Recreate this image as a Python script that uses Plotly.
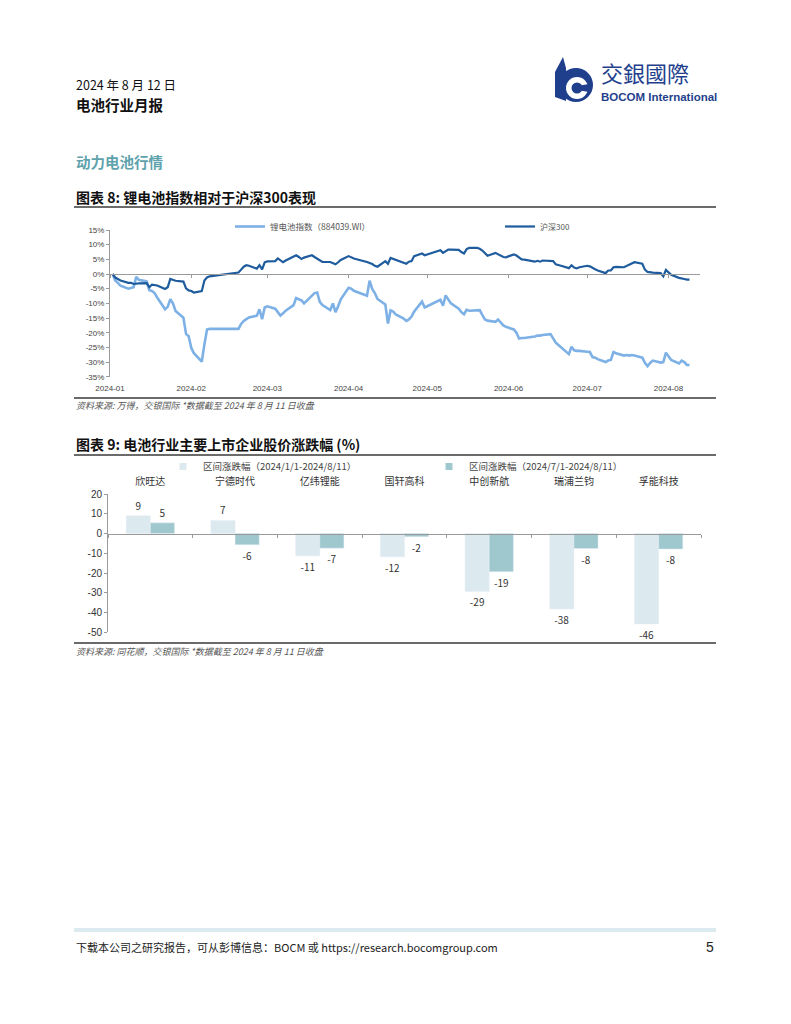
import plotly.graph_objects as go

W, H = 791, 1024
def px(x): return x / W
def py(y): return 1 - y / H

# ---------------- Chart 1 data (relative performance, %) ----------------
li_dates = ["2024-01-02","2024-01-03","2024-01-04","2024-01-05","2024-01-08","2024-01-09","2024-01-10","2024-01-11","2024-01-12",
            "2024-01-15","2024-01-16","2024-01-17","2024-01-18","2024-01-19","2024-01-22","2024-01-23","2024-01-24","2024-01-25","2024-01-26",
            "2024-01-29","2024-01-30","2024-01-31","2024-02-01","2024-02-02","2024-02-05","2024-02-06","2024-02-07","2024-02-08",
            "2024-02-19","2024-02-20","2024-02-21","2024-02-22","2024-02-23","2024-02-26","2024-02-27","2024-02-28","2024-02-29",
            "2024-03-01","2024-03-04","2024-03-05","2024-03-06","2024-03-07","2024-03-08","2024-03-11","2024-03-12","2024-03-13","2024-03-14","2024-03-15",
            "2024-03-18","2024-03-19","2024-03-20","2024-03-21","2024-03-22","2024-03-25","2024-03-26","2024-03-27","2024-03-28","2024-03-29",
            "2024-04-01","2024-04-02","2024-04-03","2024-04-08","2024-04-09","2024-04-10","2024-04-11","2024-04-12",
            "2024-04-15","2024-04-16","2024-04-17","2024-04-18","2024-04-19","2024-04-22","2024-04-23","2024-04-24","2024-04-25","2024-04-26",
            "2024-04-29","2024-04-30","2024-05-06","2024-05-07","2024-05-08","2024-05-09","2024-05-10",
            "2024-05-13","2024-05-14","2024-05-15","2024-05-16","2024-05-17","2024-05-20","2024-05-21","2024-05-22","2024-05-23","2024-05-24",
            "2024-05-27","2024-05-28","2024-05-29","2024-05-30","2024-05-31","2024-06-03","2024-06-04","2024-06-05","2024-06-06","2024-06-07",
            "2024-06-11","2024-06-12","2024-06-13","2024-06-14","2024-06-17","2024-06-18","2024-06-19","2024-06-20","2024-06-21",
            "2024-06-24","2024-06-25","2024-06-26","2024-06-27","2024-06-28","2024-07-01","2024-07-02","2024-07-03","2024-07-04","2024-07-05",
            "2024-07-08","2024-07-09","2024-07-10","2024-07-11","2024-07-12","2024-07-15","2024-07-16","2024-07-17","2024-07-18","2024-07-19",
            "2024-07-22","2024-07-23","2024-07-24","2024-07-25","2024-07-26","2024-07-29","2024-07-30","2024-07-31",
            "2024-08-01","2024-08-02","2024-08-05","2024-08-06","2024-08-07","2024-08-08","2024-08-09"]
li_vals = [0, -2.2, -3.0, -4.0, -5.0, -4.8, -4.5, -1.0, -2.0,
           -2.5, -5.5, -5.8, -6.5, -8.0, -12.0, -11.2, -8.6, -10.0, -12.6,
           -14.9, -20.4, -21.2, -25.2, -27.0, -29.9, -24.0, -18.9, -18.7,
           -18.7, -17.0, -16.0, -15.4, -14.8, -14.2, -12.0, -15.4, -11.4,
           -11.0, -11.8, -13.0, -14.2, -13.4, -12.5, -10.6, -8.2, -8.6, -9.0, -10.0,
           -7.3, -6.5, -6.3, -9.5, -10.6, -12.3, -10.0, -13.0, -11.0, -8.6,
           -4.7, -5.0, -5.7, -7.4, -2.3, -5.1, -6.5, -8.5,
           -10.4, -16.9, -12.4, -12.8, -13.8, -15.2, -16.0, -15.5, -14.5, -12.8,
           -9.4, -11.4, -8.8, -10.8, -7.3, -8.5, -10.0,
           -11.8, -13.0, -13.7, -12.2, -12.5, -12.2, -12.3, -14.0, -15.5, -15.9,
           -16.3, -15.5, -16.5, -17.5, -18.0, -18.9, -20.0, -22.0, -21.8, -21.8,
           -21.3, -21.0, -21.0, -20.8, -20.5, -22.0, -23.4, -24.2, -25.0,
           -27.3, -24.8, -26.0, -26.2, -26.2, -26.5, -26.6, -28.3, -28.5, -29.0,
           -30.0, -29.5, -29.3, -26.6, -27.0, -27.8, -27.6, -27.8, -27.6, -27.8,
           -28.5, -30.3, -31.4, -30.3, -29.5, -30.2, -30.0, -26.8,
           -28.0, -29.3, -30.5, -29.5, -30.0, -31.0, -31.0]

hs_dates = li_dates
hs_vals = [0, -1.2, -1.7, -2.2, -3.0, -3.0, -3.4, -3.2, -3.2,
           -3.1, -4.5, -3.6, -3.8, -3.9, -5.1, -4.5, -1.7, -2.0, -2.3,
           -2.6, -4.9, -5.6, -5.8, -6.3, -5.8, -2.2, -1.2, -0.8,
           0.5, 1.5, 2.5, 3.0, 2.8, 1.8, 3.0, 1.6, 4.0,
           4.3, 4.4, 5.3, 4.5, 4.0, 4.6, 6.0, 6.4, 5.8, 5.1, 5.6,
           6.4, 5.8, 5.3, 4.6, 4.1, 4.1, 3.8, 3.3, 4.0, 4.8,
           6.1, 5.8, 5.3, 4.1, 3.8, 3.4, 2.8, 2.5,
           4.4, 3.5, 5.5, 5.2, 4.7, 3.8, 3.5, 4.2, 4.4, 6.1,
           7.0, 6.4, 8.1, 7.2, 7.8, 8.3, 8.3,
           8.2, 7.5, 7.0, 8.5, 8.9, 8.9, 8.6, 8.0, 7.0, 6.2,
           7.2, 6.8, 6.3, 5.8, 5.7, 6.7, 6.3, 5.6, 5.0, 4.9,
           4.2, 4.5, 4.2, 4.6, 4.4, 4.4, 3.3, 3.1, 2.8,
           2.0, 3.0, 2.2, 1.9, 2.3, 2.8, 2.6, 2.0, 1.6, 1.2,
           0.3, 1.2, 1.2, 2.3, 2.4, 2.3, 2.7, 3.0, 3.6, 4.0,
           3.5, 1.5, 0.7, 0.5, 0.5, 0.3, -0.8, 1.4,
           0.6, -0.3, -1.3, -1.6, -1.7, -1.9, -1.9]

li_name = "锂电池指数（884039.WI）"
hs_name = "沪深300"
y1_ticks = [15, 10, 5, 0, -5, -10, -15, -20, -25, -30, -35]
y1_labels = [f"{v}%" for v in y1_ticks]

# ---------------- Chart 2 data (share price change, %) ----------------
companies = ["欣旺达", "宁德时代", "亿纬锂能", "国轩高科", "中创新航", "瑞浦兰钧", "孚能科技"]
chg_ytd = [9.0, 6.6, -11.3, -11.8, -29.3, -38.2, -45.8]
chg_jul = [5.4, -5.7, -7.4, -1.6, -19.3, -7.6, -7.9]
ytd_name = "区间涨跌幅（2024/1/1-2024/8/11）"
jul_name = "区间涨跌幅（2024/7/1-2024/8/11）"
y2_ticks = [20, 10, 0, -10, -20, -30, -40, -50]
y2_labels = [str(v) for v in y2_ticks]

CJK = "Noto Sans CJK SC"
LIGHT = "#7DB1E6"
DARK = "#1F5C9E"
NAVY = "#1F3F8D"
C_YTD = "#DCE9EE"
C_JUL = "#9FC8CE"

fig = go.Figure()

# chart 1 traces
fig.add_trace(go.Scatter(x=li_dates, y=li_vals, mode="lines", name=li_name,
                         line=dict(color=LIGHT, width=2.6), xaxis="x", yaxis="y", legend="legend"))
fig.add_trace(go.Scatter(x=hs_dates, y=hs_vals, mode="lines", name=hs_name,
                         line=dict(color=DARK, width=2.2), xaxis="x", yaxis="y", legend="legend2"))
fig.add_trace(go.Scatter(x=li_dates[:1], y=[None], mode="lines", showlegend=False,
                         hoverinfo="skip", xaxis="x3", yaxis="y"))

# chart 2 traces
fig.add_trace(go.Bar(x=companies, y=chg_ytd, name=ytd_name, marker_color=C_YTD, showlegend=False,
                     text=[f"{v:.0f}" for v in chg_ytd], textposition="outside", cliponaxis=False,
                     textfont=dict(size=10, color="#333", family=CJK),
                     xaxis="x2", yaxis="y2"))
fig.add_trace(go.Bar(x=companies, y=chg_jul, name=jul_name, marker_color=C_JUL, showlegend=False,
                     text=[f"{v:.0f}" for v in chg_jul], textposition="outside", cliponaxis=False,
                     textfont=dict(size=10, color="#333", family=CJK),
                     xaxis="x2", yaxis="y2"))
# legend entries (small square keys)
fig.add_trace(go.Scatter(x=[None], y=[None], mode="markers", name=ytd_name,
                         marker=dict(symbol="square", size=7, color=C_YTD),
                         xaxis="x2", yaxis="y2", legend="legend3"))
fig.add_trace(go.Scatter(x=[None], y=[None], mode="markers", name=jul_name,
                         marker=dict(symbol="square", size=7, color=C_JUL),
                         xaxis="x2", yaxis="y2", legend="legend4"))
fig.add_trace(go.Scatter(x=companies, y=[None] * len(companies), mode="lines", showlegend=False,
                         hoverinfo="skip", xaxis="x4", yaxis="y2"))

axis_col = "#9A9A9A"
tick_font1 = dict(size=8, color="#444", family="Liberation Sans")
cat_range = [-0.5, len(companies) - 0.5]

fig.update_layout(
    width=W, height=H, autosize=False,
    margin=dict(l=0, r=0, t=0, b=0, pad=0, autoexpand=False),
    paper_bgcolor="white", plot_bgcolor="rgba(0,0,0,0)",
    font=dict(family=CJK, color="#222"),
    barmode="group", bargap=0.43, bargroupgap=0,
    showlegend=True,
    xaxis=dict(domain=[px(110), px(700)], anchor="y", type="date",
               range=["2024-01-01", "2024-08-13"], tick0="2024-01-01", dtick="M1", tickformat="%Y-%m",
               showline=False, ticks="", showgrid=False, zeroline=False, tickfont=tick_font1,
               ticklabelstandoff=5),
    xaxis3=dict(overlaying="x", anchor="free", position=py(274.3), type="date",
                range=["2024-01-01", "2024-08-13"],
                tick0="2024-01-01", dtick="M1", showline=True, linecolor=axis_col, linewidth=1,
                ticks="outside", ticklen=3, tickcolor=axis_col, showticklabels=False, showgrid=False),
    yaxis=dict(domain=[py(376.7), py(230)], anchor="x", range=[-35, 15],
               tickvals=y1_ticks, ticktext=y1_labels, showline=True, linecolor=axis_col, linewidth=1,
               ticks="outside", ticklen=3, tickcolor=axis_col, showgrid=False, zeroline=False,
               tickfont=tick_font1),
    xaxis2=dict(domain=[px(108), px(701)], anchor="y2", type="category", side="top", range=cat_range,
                showline=False, ticks="", showgrid=False, zeroline=False,
                tickfont=dict(size=10, color="#333", family=CJK), ticklabelstandoff=6),
    xaxis4=dict(overlaying="x2", anchor="free", position=py(533.7), type="category", range=cat_range,
                showline=True, linecolor=axis_col, linewidth=1.2, ticks="outside", tickson="boundaries",
                ticklen=3, tickcolor=axis_col, showticklabels=False, showgrid=False),
    yaxis2=dict(domain=[py(632.3), py(494)], anchor="x2", range=[-50, 20],
                tickvals=y2_ticks, ticktext=y2_labels, showline=True, linecolor=axis_col, linewidth=1,
                ticks="outside", ticklen=3, tickcolor=axis_col, showgrid=False, zeroline=False,
                tickfont=dict(size=10, color="#333", family="Liberation Sans")),
    legend=dict(x=px(230), y=py(212), xanchor="left", yanchor="top", orientation="h",
                font=dict(size=8.5, color="#555", family=CJK), bgcolor="rgba(0,0,0,0)", itemwidth=30),
    legend2=dict(x=px(500), y=py(212), xanchor="left", yanchor="top", orientation="h",
                 font=dict(size=8, color="#555", family=CJK), bgcolor="rgba(0,0,0,0)", itemwidth=30),
    legend3=dict(x=px(163), y=py(452), xanchor="left", yanchor="top", orientation="h",
                 font=dict(size=9.5, color="#444", family=CJK), bgcolor="rgba(0,0,0,0)", itemwidth=30),
    legend4=dict(x=px(429), y=py(452), xanchor="left", yanchor="top", orientation="h",
                 font=dict(size=9.5, color="#444", family=CJK), bgcolor="rgba(0,0,0,0)", itemwidth=30),
)

def ann(text, x, y, size, color="#111", anchor="left", family=CJK):
    fig.add_annotation(text=text, x=px(x), y=py(y), xref="paper", yref="paper",
                       xanchor=anchor, yanchor="middle", showarrow=False,
                       font=dict(size=size, color=color, family=family))

ann("2024 年 8 月 12 日", 74, 84, 12.5)
ann("<b>电池行业月报</b>", 74, 104, 14.5)
ann("<b>动力电池行情</b>", 74, 161, 14.5, color="#5EA2AC")
ann("<b>图表 8: 锂电池指数相对于沪深300表现</b>", 74, 197, 14)
ann("<i>资料来源: 万得，交银国际 *数据截至 2024 年 8 月 11 日收盘</i>", 74, 405, 9, color="#555")
ann("<b>图表 9: 电池行业主要上市企业股价涨跌幅 (%)</b>", 74, 444, 14)
ann("<i>资料来源: 同花顺，交银国际 *数据截至 2024 年 8 月 11 日收盘</i>", 74, 651, 9, color="#555")
ann("下载本公司之研究报告，可从彭博信息：BOCM 或 https://research.bocomgroup.com", 74, 947, 11, color="#222")
ann("5", 716, 947, 14, color="#222", anchor="right", family="Liberation Sans")
ann("交銀國際", 599, 72, 22, color=NAVY)
ann("<b>BOCOM International</b>", 599, 96.5, 11.5, color=NAVY, family="Liberation Sans")

def hline(y, x0, x1, color, width):
    fig.add_shape(type="line", xref="paper", yref="paper", x0=px(x0), x1=px(x1), y0=py(y), y1=py(y),
                  line=dict(color=color, width=width))

hline(207, 74, 716, "#3A3A3A", 1.4)
hline(398, 74, 716, "#6A6A6A", 2)
hline(455, 74, 716, "#3A3A3A", 1.4)
hline(643, 74, 716, "#6A6A6A", 2)
hline(930, 74, 716, "#DCEBEF", 4)

# logo
def circ(cx, cy, r, color):
    fig.add_shape(type="circle", xref="paper", yref="paper", x0=px(cx - r), x1=px(cx + r),
                  y0=py(cy + r), y1=py(cy - r), fillcolor=color, line=dict(width=0))

def path(points, color):
    d = "M " + " L ".join(f"{px(a):.5f},{py(b):.5f}" for a, b in points) + " Z"
    fig.add_shape(type="path", xref="paper", yref="paper", path=d, fillcolor=color, line=dict(width=0))

path([(555, 72), (563, 57), (566, 68), (566, 101), (555, 97)], NAVY)
circ(576, 85, 17, NAVY)
circ(577, 88, 11, "white")
circ(577, 88, 5.5, NAVY)
path([(577, 86), (589, 84), (589, 92), (577, 90)], NAVY)

fig.write_html("out.html", post_script="document.body.style.margin='0';",
               config={"displayModeBar": False})
